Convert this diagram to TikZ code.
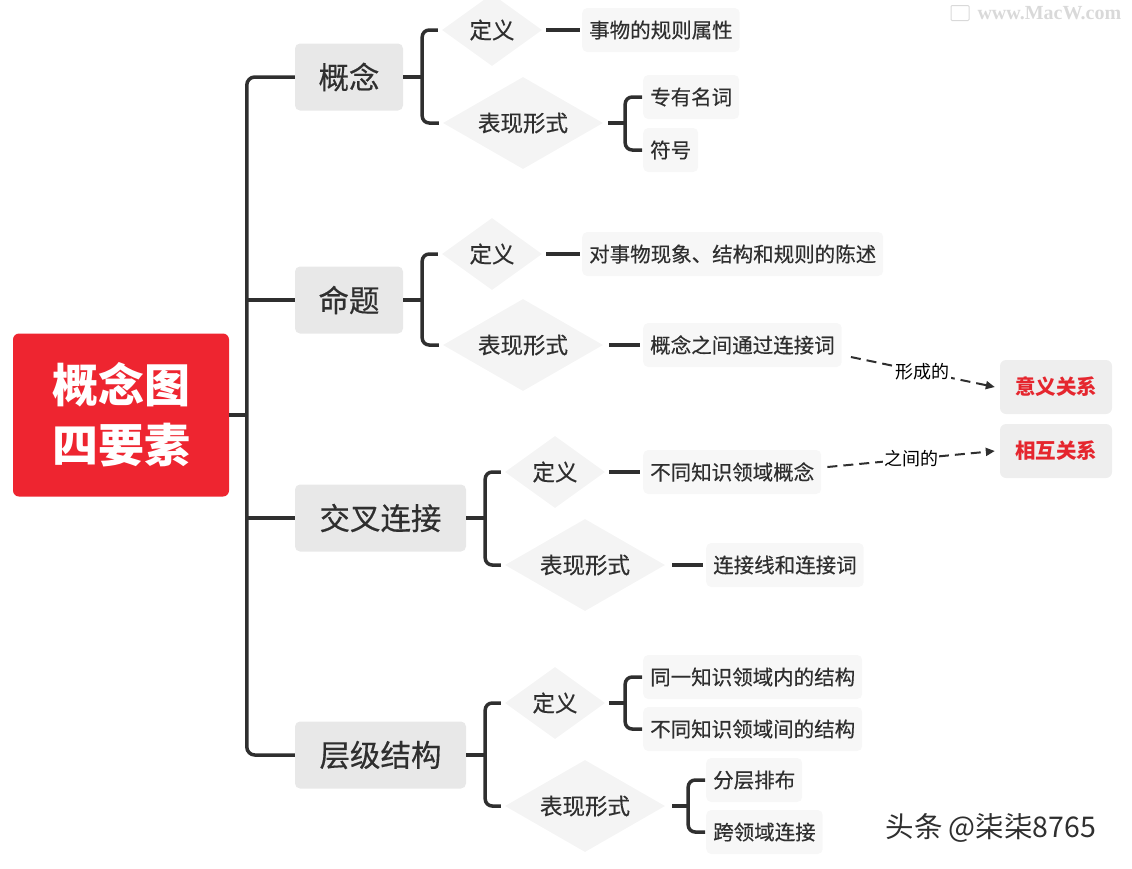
\documentclass[tikz,border=0pt]{standalone}
\usepackage{fontspec}
\setmainfont{Noto Sans CJK SC}
\newfontfamily\medfont[FakeBold=0.4]{Noto Sans CJK SC}
\newfontfamily\wmfont{Liberation Serif}
\usetikzlibrary{shapes.geometric,arrows.meta}
\definecolor{ink}{HTML}{2F2F2F}
\definecolor{rootred}{HTML}{EE2530}
\definecolor{gbox}{HTML}{E8E8E8}
\definecolor{gleaf}{HTML}{F7F7F7}
\definecolor{gdia}{HTML}{F4F4F4}
\definecolor{gtarget}{HTML}{EEEEEE}
\definecolor{tred}{HTML}{E5262E}
\begin{document}
\begin{tikzpicture}[x=1pt,y=-1pt,
  rootbox/.style={fill=rootred, rounded corners=6pt, minimum width=216pt, minimum height=163pt, text=white, font=\fontsize{46}{60}\selectfont\bfseries, align=center, inner sep=0},
  lvone/.style={fill=gbox, rounded corners=5pt, minimum height=67pt, text=ink, font=\medfont\fontsize{30.5}{32}\selectfont, inner sep=0},
  diadef/.style={shape=diamond, fill=gdia, inner sep=0, aspect=1.4, minimum width=100pt, minimum height=72pt, text=ink, font=\medfont\fontsize{22.5}{24}\selectfont},
  diaform/.style={shape=diamond, fill=gdia, inner sep=0, aspect=1.8, minimum width=160pt, minimum height=92pt, text=ink, font=\medfont\fontsize{22.5}{24}\selectfont},
  leaf/.style={fill=gleaf, rounded corners=5pt, minimum height=44pt, inner xsep=7pt, anchor=west, text=ink, font=\medfont\fontsize{20.5}{22}\selectfont},
  target/.style={fill=gtarget, rounded corners=6pt, minimum width=112pt, minimum height=54pt, text=tred, font=\fontsize{20.5}{22}\selectfont\bfseries},
  conn/.style={draw=ink, line width=3.5pt},
  dashconn/.style={draw=ink, line width=2pt, dash pattern=on 10pt off 6pt, -{Triangle[length=9pt,width=8pt]}},
  lab/.style={fill=white, inner sep=1pt, text=black, font=\fontsize{18}{19}\selectfont}
]
\useasboundingbox (0,0) rectangle (1132,868);

% root
\node[rootbox] (root) at (121,415) {概念图\\四要素};

% level one
\node[lvone, minimum width=108pt] (g1) at (349,77) {概念};
\node[lvone, minimum width=108pt] (g2) at (349,300) {命题};
\node[lvone, minimum width=171pt] (g3) at (380.5,518) {交叉连接};
\node[lvone, minimum width=171pt] (g4) at (380.5,755) {层级结构};

% diamonds
\node[diadef] (d11) at (492,30) {定义};
\node[diaform] (d12) at (523,123) {表现形式};
\node[diadef] (d21) at (492,254) {定义};
\node[diaform] (d22) at (523,345) {表现形式};
\node[diadef] (d31) at (555,472) {定义};
\node[diaform] (d32) at (585,565) {表现形式};
\node[diadef] (d41) at (555,703) {定义};
\node[diaform] (d42) at (585,806) {表现形式};

% leaves
\node[leaf] (l11) at (582,30) {事物的规则属性};
\node[leaf] (l12) at (643,97) {专有名词};
\node[leaf] (l13) at (643,150) {符号};
\node[leaf] (l21) at (582,254) {对事物现象、结构和规则的陈述};
\node[leaf] (l22) at (643,345) {概念之间通过连接词};
\node[leaf] (l31) at (643,472) {不同知识领域概念};
\node[leaf] (l32) at (706,565) {连接线和连接词};
\node[leaf] (l41) at (643,677) {同一知识领域内的结构};
\node[leaf] (l42) at (643,729) {不同知识领域间的结构};
\node[leaf] (l43) at (706,780) {分层排布};
\node[leaf] (l44) at (706,832) {跨领域连接};

% targets
\node[target] (t1) at (1056,387) {意义关系};
\node[target] (t2) at (1056,451) {相互关系};

% trunk
\draw[conn] (root.east) -- ([xshift=-48pt]g1.west |- root.east);
\draw[conn, rounded corners=8pt] (g1.west) -- ([xshift=-48pt]g1.west) |- (g4.west);
\draw[conn] (g2.west) -- ([xshift=-48pt]g2.west);
\draw[conn] (g3.west) -- ([xshift=-48pt]g3.west |- g3.west);

% level-one brackets
\draw[conn] (g1.east) -- ([xshift=19pt]g1.east);
\draw[conn, rounded corners=7pt] ([xshift=-4pt]d11.west) -| ([xshift=19pt]g1.east) |- ([xshift=-4pt]d12.west);
\draw[conn] (g2.east) -- ([xshift=19pt]g2.east);
\draw[conn, rounded corners=7pt] ([xshift=-4pt]d21.west) -| ([xshift=19pt]g2.east) |- ([xshift=-4pt]d22.west);
\draw[conn] (g3.east) -- ([xshift=19pt]g3.east);
\draw[conn, rounded corners=7pt] ([xshift=-4pt]d31.west) -| ([xshift=19pt]g3.east) |- ([xshift=-4pt]d32.west);
\draw[conn] (g4.east) -- ([xshift=19pt]g4.east);
\draw[conn, rounded corners=7pt] ([xshift=-4pt]d41.west) -| ([xshift=19pt]g4.east) |- ([xshift=-4pt]d42.west);

% diamond to leaves
\draw[conn] ([xshift=4pt]d11.east) -- ([xshift=-2pt]l11.west);
\draw[conn] ([xshift=5pt]d12.east) -- ([xshift=22pt]d12.east);
\draw[conn, rounded corners=7pt] ([xshift=-1pt]l12.west) -| ([xshift=22pt]d12.east) |- ([xshift=-1pt]l13.west);
\draw[conn] ([xshift=4pt]d21.east) -- ([xshift=-2pt]l21.west);
\draw[conn] ([xshift=6pt]d22.east) -- ([xshift=-3pt]l22.west);
\draw[conn] ([xshift=4pt]d31.east) -- ([xshift=-3pt]l31.west);
\draw[conn] ([xshift=7pt]d32.east) -- ([xshift=-3pt]l32.west);
\draw[conn] ([xshift=4pt]d41.east) -- ([xshift=20pt]d41.east);
\draw[conn, rounded corners=7pt] ([xshift=-1pt]l41.west) -| ([xshift=20pt]d41.east) |- ([xshift=-1pt]l42.west);
\draw[conn] ([xshift=7pt]d42.east) -- ([xshift=23pt]d42.east);
\draw[conn, rounded corners=7pt] ([xshift=-1pt]l43.west) -| ([xshift=23pt]d42.east) |- ([xshift=-1pt]l44.west);

% dashed relations
\draw[dashconn] ([xshift=9pt,yshift=-12pt]l22.east) -- node[lab] (lab1) {形成的} ([xshift=-5pt]t1.west);
\draw[dashconn] ([xshift=6pt,yshift=5pt]l31.east) -- node[lab] (lab2) {之间的} ([xshift=-5pt]t2.west);

% watermarks
\node[draw=black!15, line width=1pt, rounded corners=1pt, minimum width=18pt, minimum height=15pt, inner sep=0] (wmicon) at (960,13) {};
\node[font=\wmfont\bfseries\fontsize{20}{21}\selectfont, text=black!15, anchor=west] (wm1) at (974,13) {www.MacW.com};
\node[font=\fontsize{28.5}{30}\selectfont, text=ink, anchor=west] (wm2) at (882,828) {头条 @柒柒8765};
\end{tikzpicture}
\end{document}
